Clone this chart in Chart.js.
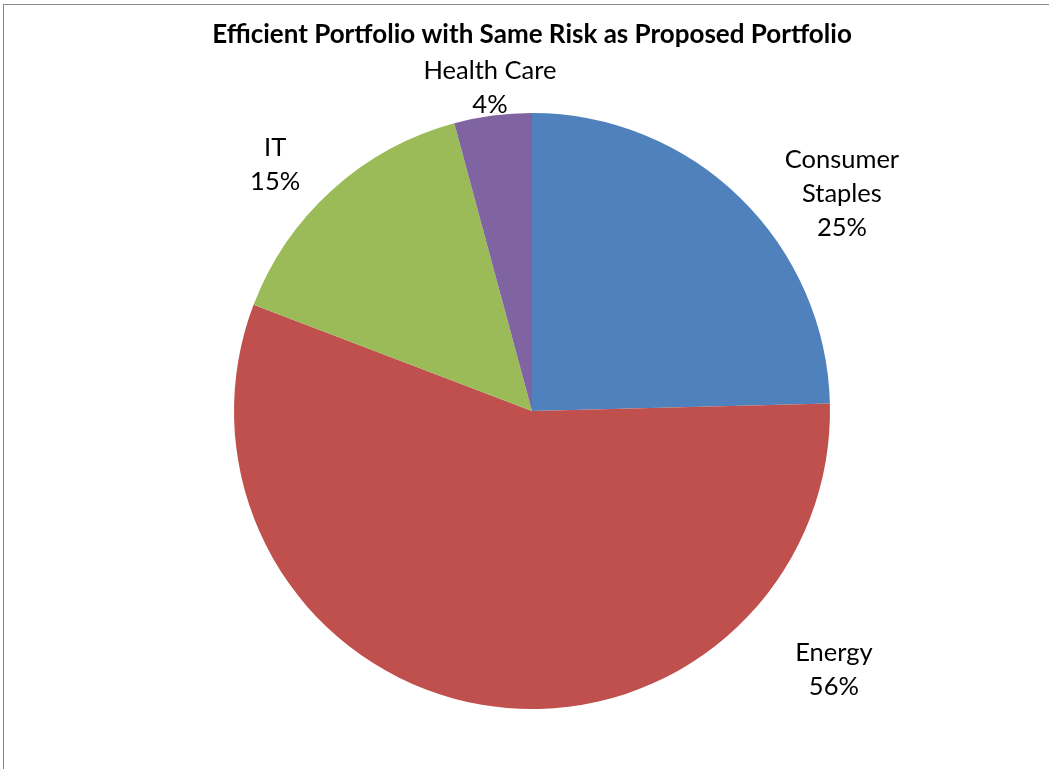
<!DOCTYPE html>
<html>
<head>
<meta charset="utf-8">
<script src="https://cdn.jsdelivr.net/npm/chart.js@4.4.0/dist/chart.umd.min.js"></script>
<style>
  html, body { margin: 0; padding: 0; background: #fff; }
  #wrap { position: relative; width: 1049px; height: 769px; }
  #frame { position: absolute; left: 3px; top: 4px; right: 0; bottom: 0; border-top: 1px solid #8a8a8a; border-left: 1px solid #8a8a8a; pointer-events: none; }
  canvas { position: absolute; left: 0; top: 0; }
</style>
</head>
<body>
<div id="wrap">
  <canvas id="pieChart" width="1049" height="769"></canvas>
  <div id="frame"></div>
</div>
<script>
// datos del gráfico
const categories = ['Consumer Staples', 'Energy', 'IT', 'Health Care'];
const labelLines = [['Consumer', 'Staples'], ['Energy'], ['IT'], ['Health Care']];
const weights = [24.6, 56.2, 15.0, 4.2];
const pctLabels = ['25%', '56%', '15%', '4%'];
const sliceColors = ['#4F81BD', '#C0504D', '#9BBB59', '#8064A2'];

// posición de cada etiqueta relativa al centro, en radios
const labelSpots = [[1.04, -0.728], [1.013, 0.869], [-0.862, -0.826], [-0.141, -1.084]];

const labelFont = '25.5px Lato, "Open Sans", sans-serif';

// plugin para dibujar las etiquetas fuera del pastel
const outsideLabels = {
    id: 'outsideLabels',
    afterDatasetsDraw(chart) {
        const ctx = chart.ctx;
        const arc = chart.getDatasetMeta(0).data[0];
        const cx = arc.x, cy = arc.y, r = arc.outerRadius;
        ctx.save();
        ctx.font = labelFont;
        ctx.fillStyle = '#000';
        ctx.textAlign = 'center';
        ctx.textBaseline = 'middle';
        const lineH = 34;
        categories.forEach((cat, i) => {
            let lines = labelLines[i].concat([pctLabels[i]]);
            let x = cx + labelSpots[i][0] * r;
            let y = cy + labelSpots[i][1] * r;
            let top = y - (lines.length - 1) * lineH / 2;
            lines.forEach((t, k) => ctx.fillText(t, x, top + k * lineH));
        });
        ctx.restore();
    }
};

new Chart(document.getElementById('pieChart'), {
    type: 'pie',
    data: {
        labels: categories,
        datasets: [{
            data: weights,
            backgroundColor: sliceColors,
            borderWidth: 0
        }]
    },
    options: {
        responsive: false,
        animation: false,
        layout: { padding: { top: 0, bottom: 60, left: 15, right: 0 } },
        plugins: {
            legend: { display: false },
            tooltip: { enabled: false },
            title: {
                display: true,
                text: 'Efficient Portfolio with Same Risk as Proposed Portfolio',
                color: '#000',
                font: { family: 'Lato, "Open Sans", sans-serif', size: 26, weight: 'bold', lineHeight: 1.2 },
                padding: { top: 19.4, bottom: 62.4 }
            }
        }
    },
    plugins: [outsideLabels]
});
</script>
</body>
</html>
